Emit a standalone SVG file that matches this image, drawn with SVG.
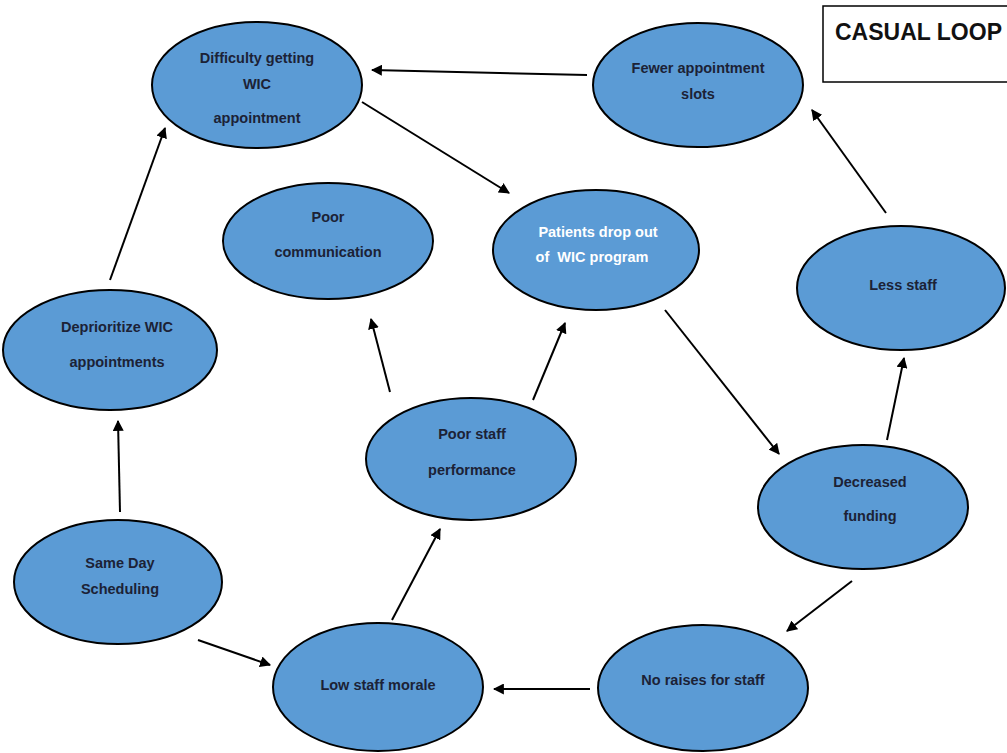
<svg xmlns="http://www.w3.org/2000/svg" width="1007" height="753" viewBox="0 0 1007 753">
<defs>
<marker id="ah" viewBox="0 0 10 10" refX="9" refY="5" markerWidth="5.5" markerHeight="5.5" orient="auto" markerUnits="strokeWidth">
<path d="M0,0 L10,5 L0,10 z" fill="#000"/>
</marker>
<style>
.n ellipse{fill:#5B9BD5;stroke:#000;stroke-width:2}
.n text{font-family:"Liberation Sans",Arial,sans-serif;font-weight:bold;font-size:14.5px;fill:#1c2236;text-anchor:middle}
.n text.w{fill:#ffffff}
#edges line{stroke:#000;stroke-width:2;marker-end:url(#ah)}
</style>
</defs>
<rect width="1007" height="753" fill="#fff"/>
<g id="title">
<rect x="823" y="6" width="190" height="76" fill="#fff" stroke="#000" stroke-width="1.5"/>
<text x="835" y="40" font-family="Liberation Sans,Arial,sans-serif" font-weight="bold" font-size="23" fill="#111">CASUAL LOOP</text>
</g>
<g id="edges">
<line x1="587" y1="75" x2="372" y2="70"/>
<line x1="362" y1="102" x2="509" y2="193"/>
<line x1="665" y1="310" x2="779" y2="454"/>
<line x1="852" y1="581" x2="787" y2="631"/>
<line x1="590" y1="689" x2="494" y2="689"/>
<line x1="392" y1="620" x2="440" y2="529"/>
<line x1="390" y1="392" x2="371" y2="319"/>
<line x1="533" y1="400" x2="565" y2="323"/>
<line x1="120" y1="512" x2="118" y2="421"/>
<line x1="198" y1="640" x2="270" y2="665"/>
<line x1="110" y1="280" x2="165" y2="128"/>
<line x1="887" y1="440" x2="904" y2="358"/>
<line x1="886" y1="213" x2="812" y2="110"/>
</g>
<g id="n1" class="n"><ellipse cx="257" cy="85" rx="105" ry="63"/><text x="257" y="63">Difficulty getting</text><text x="257" y="89">WIC</text><text x="257" y="123">appointment</text></g>
<g id="n2" class="n"><ellipse cx="698" cy="85" rx="105" ry="62"/><text x="698" y="73">Fewer appointment</text><text x="698" y="99">slots</text></g>
<g id="n3" class="n"><ellipse cx="328" cy="241" rx="105" ry="58"/><text x="328" y="222">Poor</text><text x="328" y="257">communication</text></g>
<g id="n4" class="n"><ellipse cx="596" cy="250" rx="103" ry="60"/><text class="w" x="598" y="237">Patients drop out</text><text class="w" x="592" y="262" xml:space="preserve">of  WIC program</text></g>
<g id="n5" class="n"><ellipse cx="901" cy="288" rx="104" ry="62"/><text x="903" y="290">Less staff</text></g>
<g id="n6" class="n"><ellipse cx="110" cy="350" rx="107" ry="60"/><text x="117" y="332">Deprioritize WIC</text><text x="117" y="367">appointments</text></g>
<g id="n7" class="n"><ellipse cx="471" cy="459" rx="105" ry="61"/><text x="472" y="439">Poor staff</text><text x="472" y="475">performance</text></g>
<g id="n8" class="n"><ellipse cx="863" cy="507" rx="105" ry="62"/><text x="870" y="487">Decreased</text><text x="870" y="521">funding</text></g>
<g id="n9" class="n"><ellipse cx="118" cy="582" rx="104" ry="62"/><text x="120" y="568">Same Day</text><text x="120" y="594">Scheduling</text></g>
<g id="n10" class="n"><ellipse cx="378" cy="687" rx="105" ry="64"/><text x="378" y="690">Low staff morale</text></g>
<g id="n11" class="n"><ellipse cx="703" cy="688" rx="105" ry="63"/><text x="703" y="685">No raises for staff</text></g>
</svg>
